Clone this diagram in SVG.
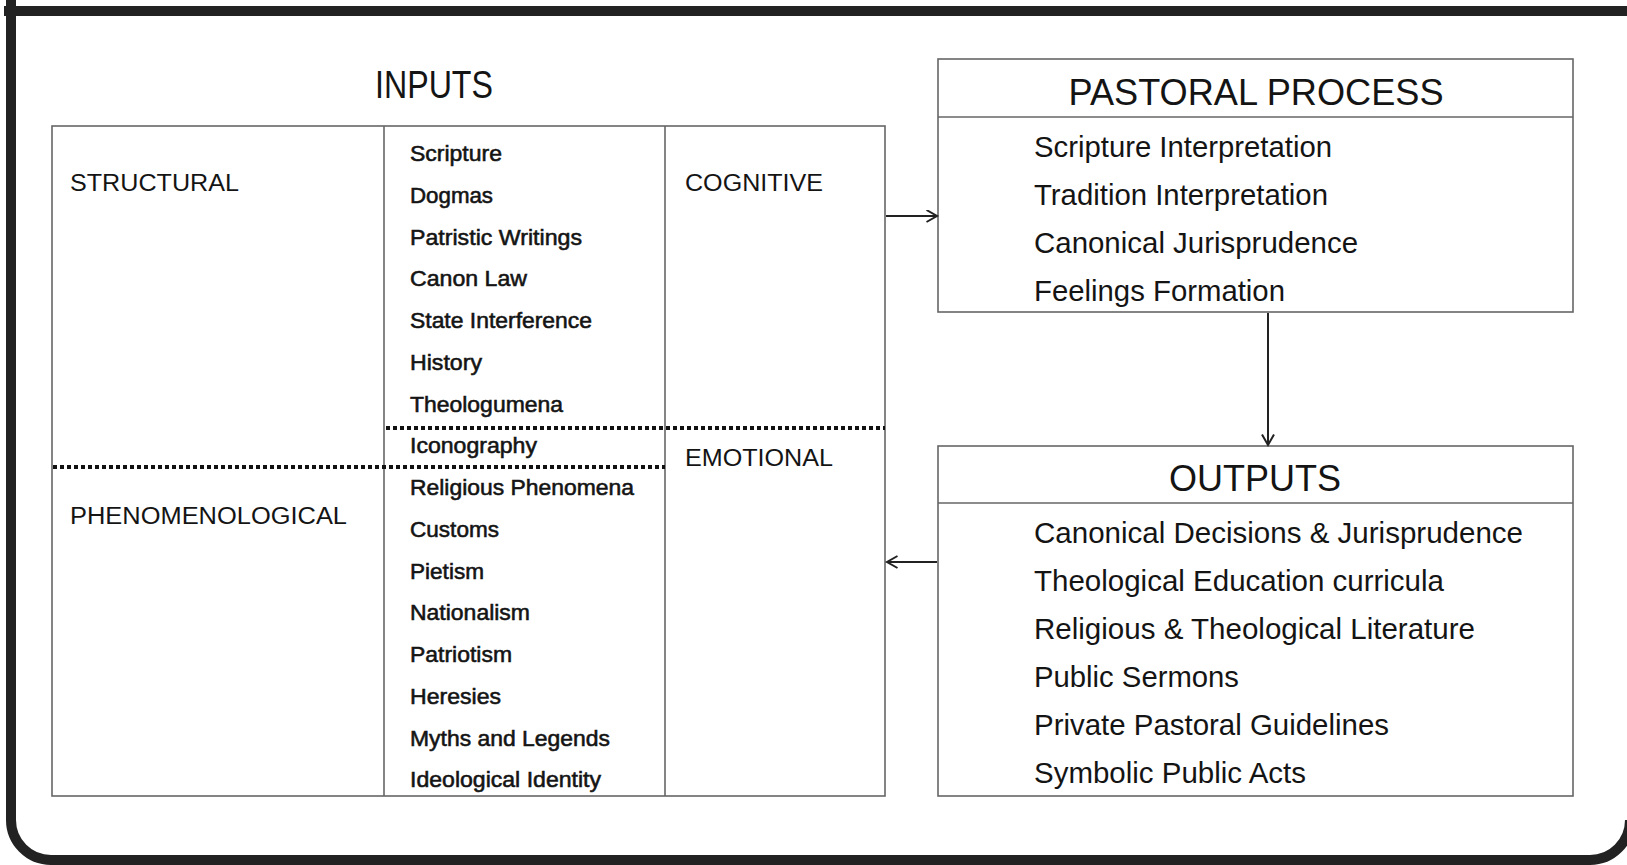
<svg xmlns="http://www.w3.org/2000/svg" width="1627" height="865" viewBox="0 0 1627 865">
<style>
.t{font-family:"Liberation Sans",Arial,sans-serif;fill:#141414}
.it{font-size:21.5px;stroke:#141414;stroke-width:0.55}
.lab{font-size:23px}
.hd{font-size:36.5px}
.li{font-size:29.5px}
.box{fill:none;stroke:#666;stroke-width:1.6}
.ln{stroke:#666;stroke-width:1.6}
.dot{stroke:#111;stroke-width:4;stroke-dasharray:4 3;fill:none}
.conn{stroke:#222;stroke-width:2;fill:none}
.frame{stroke:#222;stroke-width:10;fill:none}
</style>
<defs>
<marker id="arr" markerUnits="userSpaceOnUse" markerWidth="14" markerHeight="16" refX="11" refY="6.5" orient="auto">
<path d="M0.5,0.5 L11,6.5 L0.5,12.5" fill="none" stroke="#222" stroke-width="2"/>
</marker>
</defs>
<rect width="1627" height="865" fill="#fff"/>
<g id="frame">
<path class="frame" d="M11,0 V820 A40,40 0 0 0 51,860 H1590 A40,40 0 0 0 1630,820"/>
<line class="frame" x1="4" y1="11" x2="1627" y2="11" stroke-width="9"/>
</g>
<g id="inputs">
<text class="t" x="375" y="98" font-size="38" textLength="118" lengthAdjust="spacingAndGlyphs">INPUTS</text>
<rect class="box" x="52" y="126" width="833" height="670"/>
<line class="ln" x1="384" y1="126" x2="384" y2="796"/>
<line class="ln" x1="665" y1="126" x2="665" y2="796"/>
<line class="dot" x1="386" y1="428" x2="885" y2="428"/>
<line class="dot" x1="53" y1="467" x2="665" y2="467"/>
<text class="t lab" x="70" y="191" textLength="169" lengthAdjust="spacingAndGlyphs">STRUCTURAL</text>
<text class="t lab" x="685" y="191" textLength="138" lengthAdjust="spacingAndGlyphs">COGNITIVE</text>
<text class="t lab" x="685" y="466" textLength="148" lengthAdjust="spacingAndGlyphs">EMOTIONAL</text>
<text class="t lab" x="70" y="524" textLength="277" lengthAdjust="spacingAndGlyphs">PHENOMENOLOGICAL</text>
<text class="t it" x="410" y="161" textLength="92" lengthAdjust="spacingAndGlyphs">Scripture</text>
<text class="t it" x="410" y="202.75" textLength="83" lengthAdjust="spacingAndGlyphs">Dogmas</text>
<text class="t it" x="410" y="244.5" textLength="172" lengthAdjust="spacingAndGlyphs">Patristic Writings</text>
<text class="t it" x="410" y="286.25" textLength="117" lengthAdjust="spacingAndGlyphs">Canon Law</text>
<text class="t it" x="410" y="328" textLength="182" lengthAdjust="spacingAndGlyphs">State Interference</text>
<text class="t it" x="410" y="369.75" textLength="72" lengthAdjust="spacingAndGlyphs">History</text>
<text class="t it" x="410" y="411.5" textLength="153" lengthAdjust="spacingAndGlyphs">Theologumena</text>
<text class="t it" x="410" y="453.25" textLength="127" lengthAdjust="spacingAndGlyphs">Iconography</text>
<text class="t it" x="410" y="495" textLength="224" lengthAdjust="spacingAndGlyphs">Religious Phenomena</text>
<text class="t it" x="410" y="536.75" textLength="89" lengthAdjust="spacingAndGlyphs">Customs</text>
<text class="t it" x="410" y="578.5" textLength="74" lengthAdjust="spacingAndGlyphs">Pietism</text>
<text class="t it" x="410" y="620.25" textLength="120" lengthAdjust="spacingAndGlyphs">Nationalism</text>
<text class="t it" x="410" y="662" textLength="102" lengthAdjust="spacingAndGlyphs">Patriotism</text>
<text class="t it" x="410" y="703.75" textLength="91" lengthAdjust="spacingAndGlyphs">Heresies</text>
<text class="t it" x="410" y="745.5" textLength="200" lengthAdjust="spacingAndGlyphs">Myths and Legends</text>
<text class="t it" x="410" y="787.25" textLength="191" lengthAdjust="spacingAndGlyphs">Ideological Identity</text>
</g>
<g id="pastoral">
<rect class="box" x="938" y="59" width="635" height="253"/>
<line class="ln" x1="938" y1="117" x2="1573" y2="117"/>
<text class="t hd" x="1256" y="105" text-anchor="middle" textLength="375" lengthAdjust="spacingAndGlyphs">PASTORAL PROCESS</text>
<text class="t li" x="1034" y="156.5" textLength="298" lengthAdjust="spacingAndGlyphs">Scripture Interpretation</text>
<text class="t li" x="1034" y="204.5" textLength="294" lengthAdjust="spacingAndGlyphs">Tradition Interpretation</text>
<text class="t li" x="1034" y="252.5" textLength="324" lengthAdjust="spacingAndGlyphs">Canonical Jurisprudence</text>
<text class="t li" x="1034" y="300.5" textLength="251" lengthAdjust="spacingAndGlyphs">Feelings Formation</text>
</g>
<g id="outputs">
<rect class="box" x="938" y="446" width="635" height="350"/>
<line class="ln" x1="938" y1="503" x2="1573" y2="503"/>
<text class="t hd" x="1255" y="491" text-anchor="middle" textLength="172" lengthAdjust="spacingAndGlyphs">OUTPUTS</text>
<text class="t li" x="1034" y="543" textLength="489" lengthAdjust="spacingAndGlyphs">Canonical Decisions &amp; Jurisprudence</text>
<text class="t li" x="1034" y="591" textLength="410" lengthAdjust="spacingAndGlyphs">Theological Education curricula</text>
<text class="t li" x="1034" y="639" textLength="441" lengthAdjust="spacingAndGlyphs">Religious &amp; Theological Literature</text>
<text class="t li" x="1034" y="687" textLength="205" lengthAdjust="spacingAndGlyphs">Public Sermons</text>
<text class="t li" x="1034" y="735" textLength="355" lengthAdjust="spacingAndGlyphs">Private Pastoral Guidelines</text>
<text class="t li" x="1034" y="783" textLength="272" lengthAdjust="spacingAndGlyphs">Symbolic Public Acts</text>
</g>
<g id="connectors">
<path class="conn" d="M886,216 H937" marker-end="url(#arr)"/>
<path class="conn" d="M1268,313 V445" marker-end="url(#arr)"/>
<path class="conn" d="M937,562 H887" marker-end="url(#arr)"/>
</g>
</svg>
